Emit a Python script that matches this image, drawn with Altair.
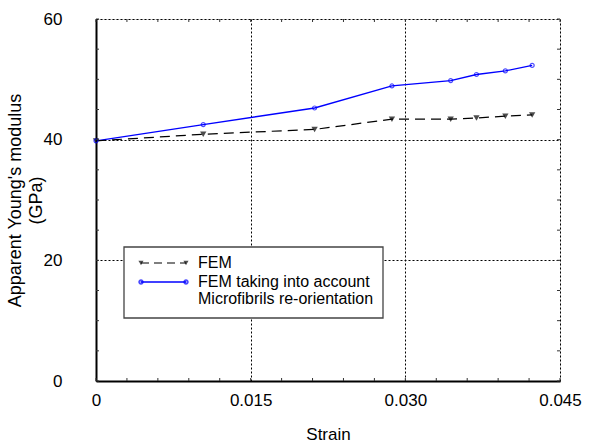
import altair as alt
import pandas as pd

strain = [0.0, 0.0104, 0.0212, 0.0287, 0.0344, 0.0369, 0.0397, 0.0423]
fem = [39.8, 40.9, 41.7, 43.4, 43.4, 43.6, 43.9, 44.1]
fem_reorient = [39.8, 42.5, 45.25, 48.9, 49.8, 50.8, 51.4, 52.3]

x_ticks = [0, 0.015, 0.030, 0.045]
y_ticks = [0, 20, 40, 60]
x_minor = [i * 0.003 for i in range(16)]
y_minor = [i * 5 for i in range(13)]

FONT = "Liberation Sans"
W, H = 464, 362

df = pd.DataFrame({"strain": strain, "fem": fem, "fem_r": fem_reorient})

xscale = alt.Scale(domain=[0, 0.045], nice=False)
yscale = alt.Scale(domain=[0, 60], nice=False)

xaxis = alt.Axis(values=x_ticks, labelExpr="datum.value == 0 ? '0' : format(datum.value, '.3f')",
                 ticks=False, grid=True, gridDash=[2, 2], gridColor="black", gridWidth=1, gridOpacity=1,
                 domainColor="black", domainWidth=2, labelFont=FONT, labelFontSize=17, labelColor="black",
                 labelPadding=11, labelBaseline="top", labelFlush=False,
                 title="Strain", titleFont=FONT, titleFontSize=17, titleFontWeight="normal",
                 titleColor="black", titleBaseline="middle", titleY=53)
yaxis = alt.Axis(values=y_ticks, ticks=False, grid=True, gridDash=[2, 2], gridColor="black",
                 gridWidth=1, gridOpacity=1, domainColor="black", domainWidth=2,
                 labelFont=FONT, labelFontSize=17, labelColor="black", labelPadding=34,
                 labelBaseline="middle", labelFlush=False,
                 title=["Apparent Young's modulus", "(GPa)"], titleFont=FONT, titleFontSize=18,
                 titleFontWeight="normal", titleColor="black", titleAngle=-90,
                 titleBaseline="middle", titleAlign="center", titleX=-81, titleY=H / 2,
                 titleLineHeight=21)

base = alt.Chart(df)

blue_line = base.mark_line(color="#0000ff", strokeWidth=1.3).encode(
    x=alt.X("strain:Q", scale=xscale, axis=xaxis),
    y=alt.Y("fem_r:Q", scale=yscale, axis=yaxis),
)
blue_pts = base.mark_point(shape="circle", filled=False, color="#0000ff", size=16, strokeWidth=1.2).encode(
    x=alt.X("strain:Q", scale=xscale), y=alt.Y("fem_r:Q", scale=yscale))
black_line = base.mark_line(color="black", strokeWidth=1.2, strokeDash=[10, 6]).encode(
    x=alt.X("strain:Q", scale=xscale), y=alt.Y("fem:Q", scale=yscale))
black_pts = base.mark_point(shape="triangle-down", filled=True, color="black", size=40).encode(
    x=alt.X("strain:Q", scale=xscale), y=alt.Y("fem:Q", scale=yscale))

# inward ticks
xm = pd.DataFrame({"v": x_minor})
ym = pd.DataFrame({"v": y_minor})
tick_style = dict(color="#333333", strokeWidth=1)
t_bottom = alt.Chart(xm).mark_rule(**tick_style).encode(
    x=alt.X("v:Q", scale=xscale), y=alt.value(H), y2=alt.value(H - 3))
t_top = alt.Chart(xm).mark_rule(**tick_style).encode(
    x=alt.X("v:Q", scale=xscale), y=alt.value(0), y2=alt.value(3))
t_left = alt.Chart(ym).mark_rule(**tick_style).encode(
    y=alt.Y("v:Q", scale=yscale), x=alt.value(0), x2=alt.value(3))
t_right = alt.Chart(ym).mark_rule(**tick_style).encode(
    y=alt.Y("v:Q", scale=yscale), x=alt.value(W), x2=alt.value(W - 3))

# legend
one = alt.Data(values=[{"a": 1}])
leg_box = alt.Chart(one).mark_rect(fill="white", stroke="#444444", strokeWidth=1.3).encode(
    x=alt.value(28), x2=alt.value(287), y=alt.value(228), y2=alt.value(299))
leg_l1 = alt.Chart(one).mark_rule(color="black", strokeWidth=1.2, strokeDash=[8, 5]).encode(
    x=alt.value(45), x2=alt.value(90), y=alt.value(244))
leg_p1a = alt.Chart(one).mark_point(shape="triangle-down", filled=True, color="black", size=26).encode(
    x=alt.value(45), y=alt.value(244))
leg_p1b = alt.Chart(one).mark_point(shape="triangle-down", filled=True, color="black", size=26).encode(
    x=alt.value(90), y=alt.value(244))
leg_l2 = alt.Chart(one).mark_rule(color="#0000ff", strokeWidth=1.3).encode(
    x=alt.value(45), x2=alt.value(90), y=alt.value(263))
leg_p2a = alt.Chart(one).mark_point(shape="circle", filled=False, color="#0000ff", size=12).encode(
    x=alt.value(45), y=alt.value(263))
leg_p2b = alt.Chart(one).mark_point(shape="circle", filled=False, color="#0000ff", size=12).encode(
    x=alt.value(90), y=alt.value(263))
leg_t1 = alt.Chart(one).mark_text(align="left", baseline="middle", font=FONT, fontSize=16, color="black").encode(
    x=alt.value(102), y=alt.value(244), text=alt.value("FEM"))
leg_t2 = alt.Chart(one).mark_text(align="left", baseline="top", font=FONT, fontSize=16, color="black",
                                  lineHeight=17).encode(
    x=alt.value(102), y=alt.value(255),
    text=alt.value(["FEM taking into account", "Microfibrils re-orientation"]))

chart = alt.layer(
    blue_line, black_line, black_pts, blue_pts,
    t_bottom, t_top, t_left, t_right,
    leg_box, leg_l1, leg_p1a, leg_p1b, leg_l2, leg_p2a, leg_p2b, leg_t1, leg_t2,
).properties(
    width=W, height=H,
    autosize=alt.AutoSizeParams(type="none"),
    padding={"left": 96, "top": 19, "right": 55, "bottom": 62},
).configure_view(stroke="black", strokeWidth=2).configure(background="white")

chart.save("out.html", embed_options={"renderer": "svg", "actions": False})
